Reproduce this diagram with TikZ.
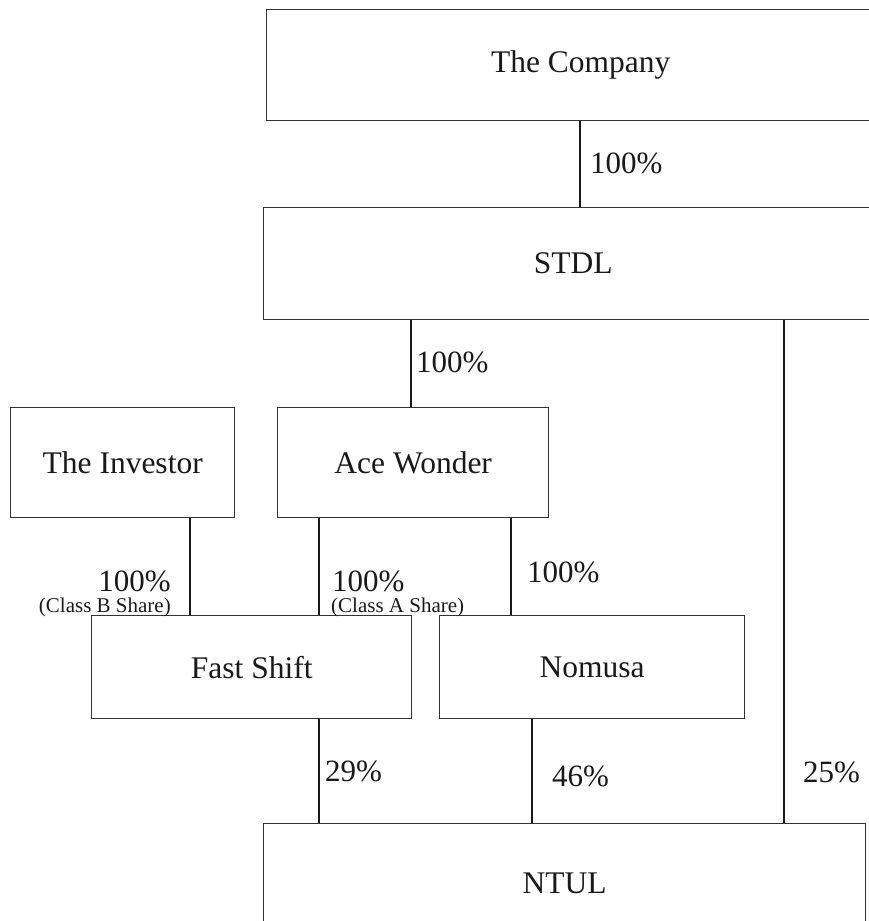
\documentclass[tikz,border=0pt]{standalone}
\usepackage{fontspec}
\setmainfont{Liberation Serif}
\begin{document}
\begin{tikzpicture}[x=1pt,y=-1pt,
  entity/.style={draw=black!80, line width=1.4pt, rectangle, inner sep=0pt, anchor=north west,
    font=\fontsize{31.5}{34}\selectfont, text=black!90},
  link/.style={draw=black!90, line width=1.6pt},
  pct/.style={inner sep=0pt, font=\fontsize{31}{34}\selectfont, text=black!90},
  cls/.style={inner sep=0pt, font=\fontsize{21}{24}\selectfont, text=black!90}]
\useasboundingbox (0,0) rectangle (869,921);
\node[entity, minimum width=628pt, minimum height=111pt] (company) at (266,9) {The Company};
\node[entity, minimum width=619pt, minimum height=112pt] (stdl) at (263,207) {STDL};
\node[entity, minimum width=224pt, minimum height=110pt] (investor) at (10,407) {The Investor};
\node[entity, minimum width=271pt, minimum height=110pt] (ace) at (277,407) {Ace Wonder};
\node[entity, minimum width=320pt, minimum height=103pt] (fast) at (91,615) {Fast Shift};
\node[entity, minimum width=305pt, minimum height=103pt] (nomusa) at (439,615) {Nomusa};
\node[entity, minimum width=602pt, minimum height=120pt] (ntul) at (263,823) {NTUL};
\coordinate (c1) at (580,0);
\coordinate (c2) at (411,0);
\coordinate (c3) at (784,0);
\coordinate (c4) at (190,0);
\coordinate (c5) at (319,0);
\coordinate (c6) at (511,0);
\coordinate (c7) at (532,0);
\draw[link] (company.south -| c1) -- (stdl.north -| c1);
\draw[link] (stdl.south -| c2) -- (ace.north -| c2);
\draw[link] (stdl.south -| c3) -- (ntul.north -| c3);
\draw[link] (investor.south -| c4) -- (fast.north -| c4);
\draw[link] (ace.south -| c5) -- (fast.north -| c5);
\draw[link] (ace.south -| c6) -- (nomusa.north -| c6);
\draw[link] (fast.south -| c5) -- (ntul.north -| c5);
\draw[link] (nomusa.south -| c7) -- (ntul.north -| c7);
\node[pct, anchor=west] (l1) at (590,163) {100\%};
\node[pct, anchor=west] (l2) at (416,362) {100\%};
\node[pct, anchor=base east] (l3) at (171,591) {100\%};
\node[cls, anchor=base east] (l3c) at (171,612) {(Class B Share)};
\node[pct, anchor=base west] (l4) at (332,591) {100\%};
\node[cls, anchor=base west] (l4c) at (331,612) {(Class A Share)};
\node[pct, anchor=west] (l5) at (527,572) {100\%};
\node[pct, anchor=west] (l6) at (325,771) {29\%};
\node[pct, anchor=west] (l7) at (552,776) {46\%};
\node[pct, anchor=west] (l8) at (803,772) {25\%};
\end{tikzpicture}
\end{document}
